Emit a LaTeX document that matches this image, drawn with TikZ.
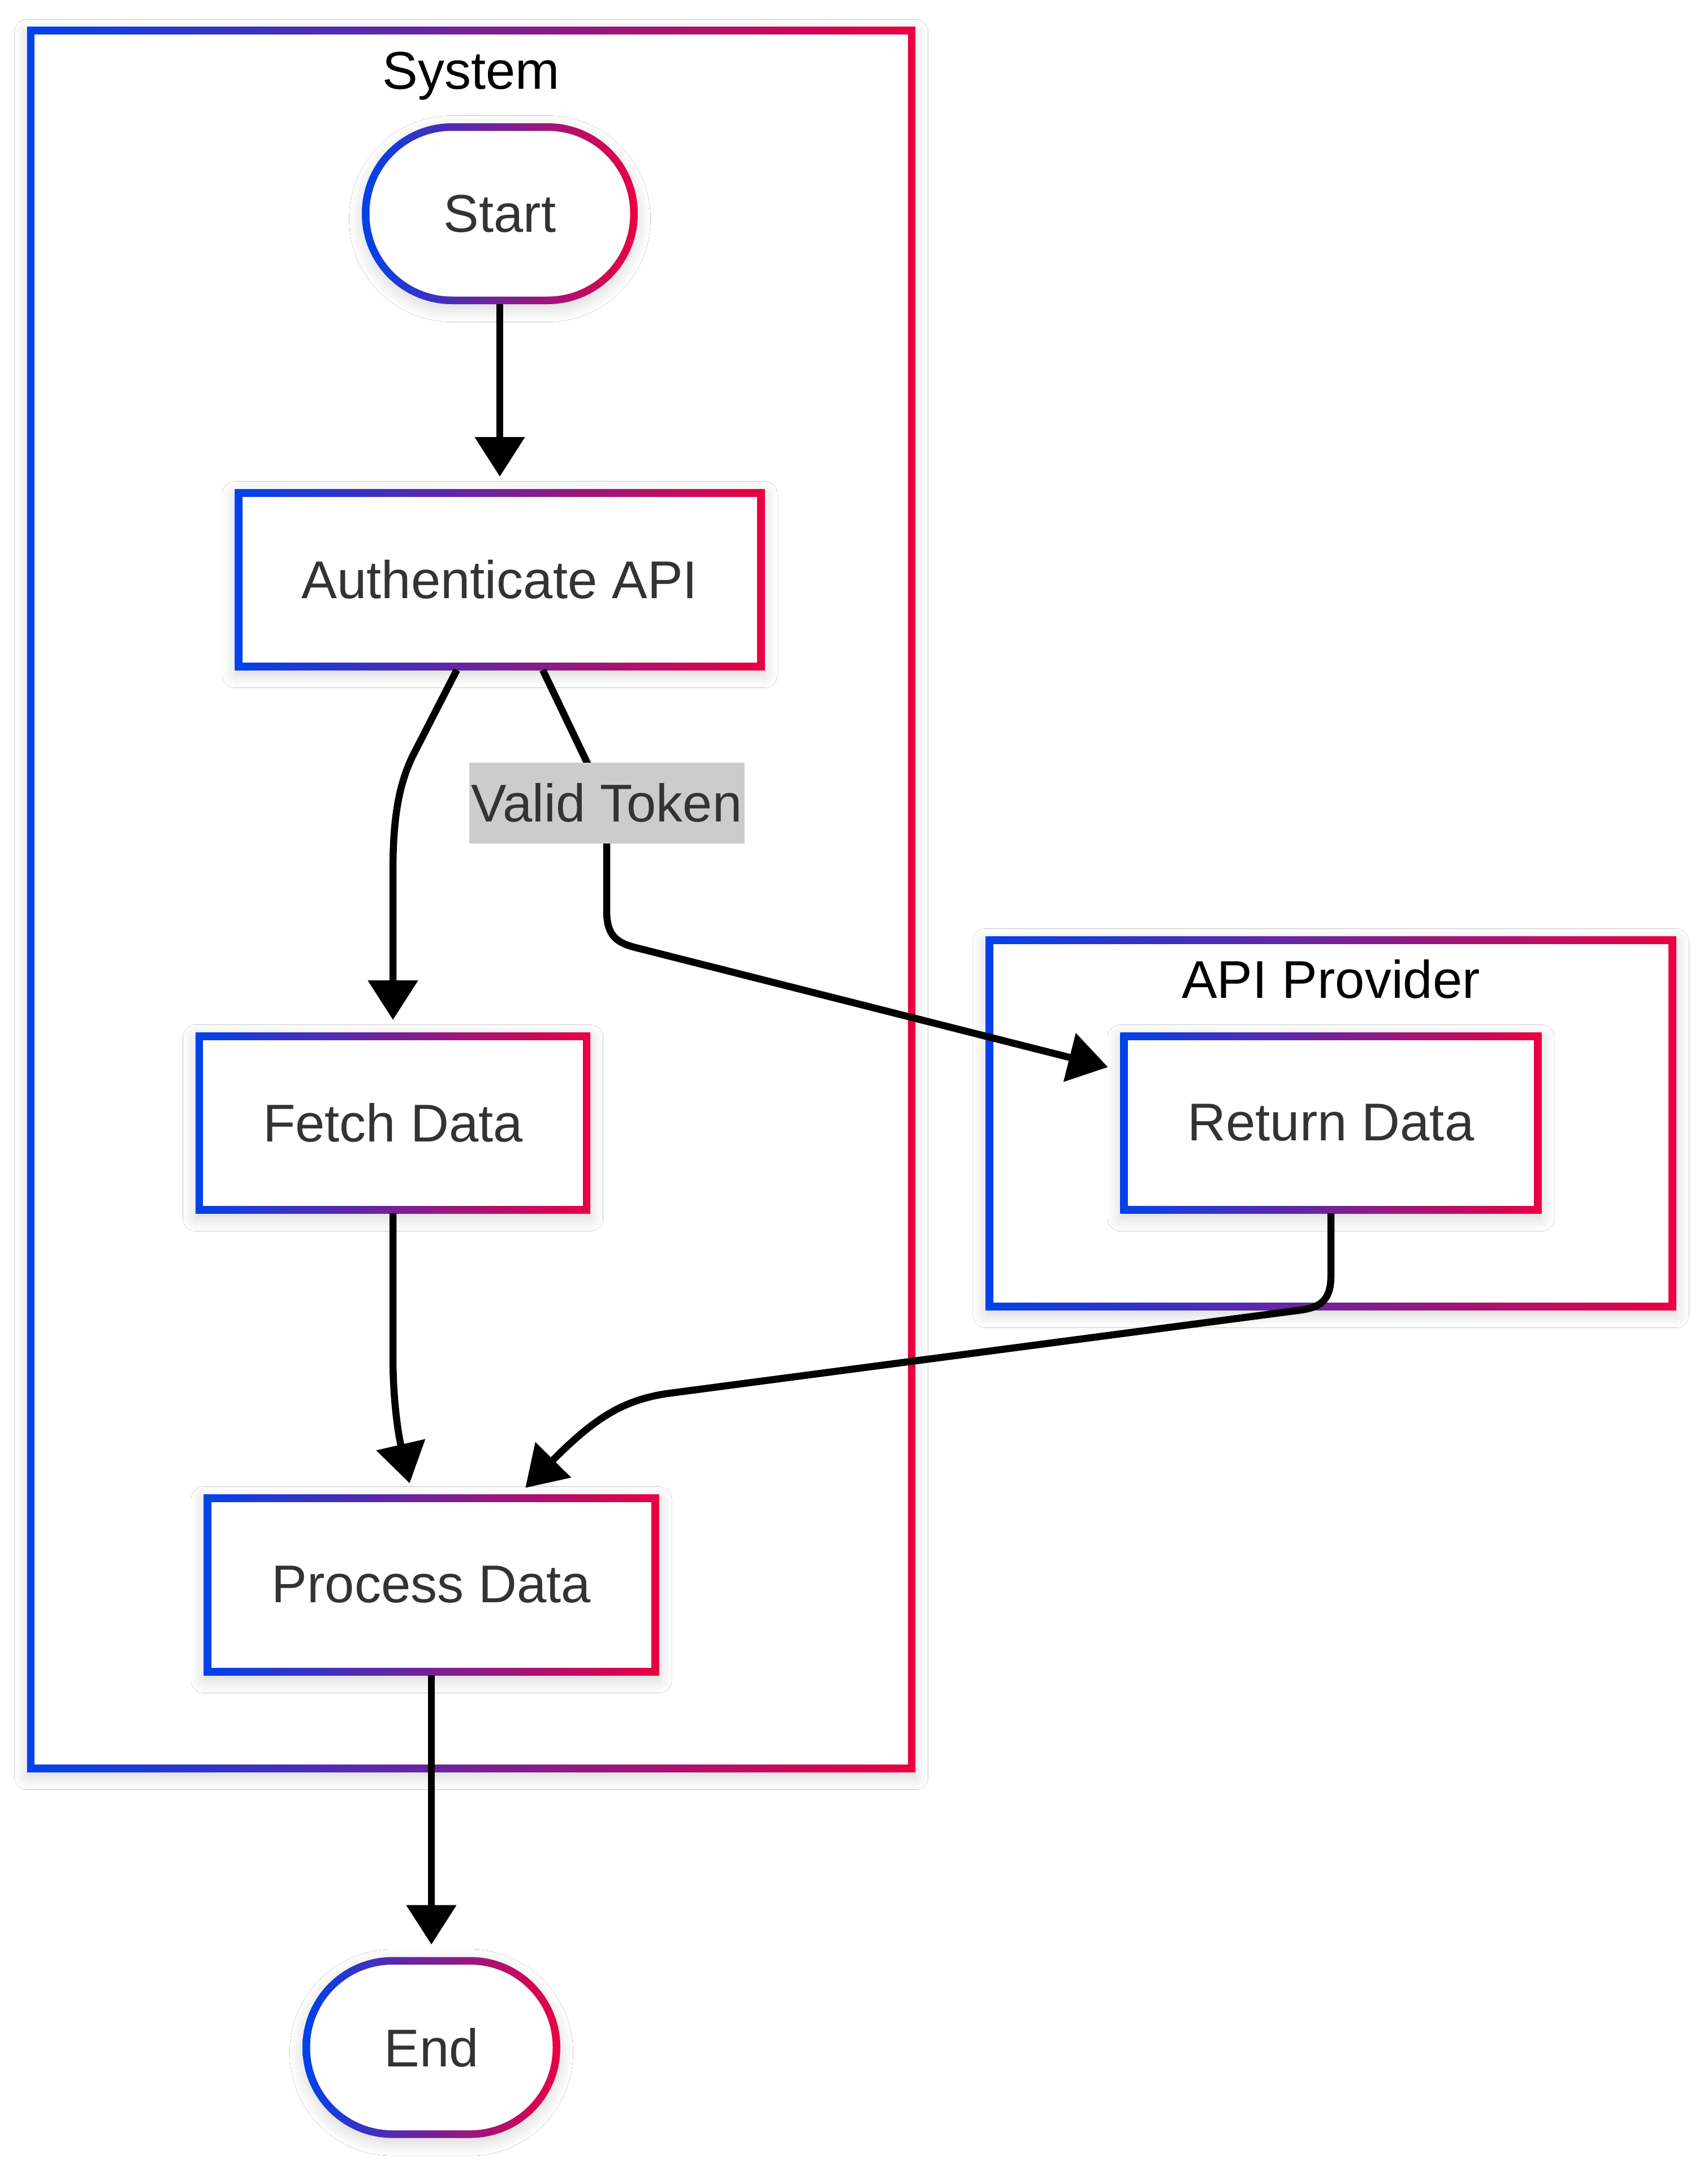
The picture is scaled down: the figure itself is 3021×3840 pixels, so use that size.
\documentclass[tikz,border=0pt]{standalone}
\usepackage{fontspec}
\setmainfont{Liberation Sans}
\usetikzlibrary{arrows.meta,calc,shadows.blur}
\definecolor{gblue}{RGB}{0,66,235}
\definecolor{gred}{RGB}{235,0,66}
\definecolor{txt}{RGB}{51,51,51}
\definecolor{lblbg}{RGB}{204,204,204}
\tikzset{
  lbfont/.style={font=\fontsize{18.8pt}{23pt}\selectfont},
  gbase/.style={rectangle, outer sep=0pt, inner sep=0pt, left color=gblue, right color=gred,
    minimum height=64pt, text=txt, lbfont,
    blur shadow={shadow xshift=0pt, shadow yshift=-1.8pt, shadow blur radius=4.5pt,
      shadow opacity=16, shadow blur steps=16}},
  gbox/.style={gbase,
    path picture={\fill[white] ($(path picture bounding box.north west)+(2.7pt,-2.7pt)$)
      rectangle ($(path picture bounding box.south east)+(-2.7pt,2.7pt)$);}},
  gstadium/.style={gbase, rounded corners=31.9pt,
    path picture={\fill[white, rounded corners=29.2pt] ($(path picture bounding box.north west)+(2.7pt,-2.7pt)$)
      rectangle ($(path picture bounding box.south east)+(-2.7pt,2.7pt)$);}},
  clabel/.style={lbfont, text=black, anchor=base, inner sep=0pt},
  edge/.style={draw=black, line width=2.5pt, -{Triangle[length=14pt,width=17.2pt]}},
  elabel/.style={fill=lblbg, text=txt, lbfont, inner xsep=0.8pt, inner ysep=0pt, minimum height=28.6pt},
}
\begin{document}
\begin{tikzpicture}[x=0.2pt, y=-0.2pt]
\useasboundingbox (0,0) rectangle (3021,3840);
\fill[white] (0,0) rectangle (3021,3840);

% clusters
\node[gbox, minimum width=314.2pt, minimum height=617.2pt] (sys) at (833.5,1591) {};
\node[gbox, minimum width=244.3pt, minimum height=132.2pt] (prov) at (2354,1986.5) {};
\node[clabel] (syslbl) at (833.5,157) {System};
\node[clabel] (provlbl) at (2354,1765) {API Provider};

% nodes
\node[gstadium, minimum width=97.6pt] (start) at (884,378) {Start};
\node[gbox, minimum width=187.4pt] (auth) at (884,1025) {Authenticate API};
\node[gbox, minimum width=139.6pt] (fetch) at (695,1986) {Fetch Data};
\node[gbox, minimum width=149pt] (ret) at (2354,1986) {Return Data};
\node[gbox, minimum width=161pt] (proc) at (763,2803) {Process Data};
\node[gstadium, minimum width=91.2pt] (end) at (763,3621.5) {End};

% edges
\draw[edge, shorten >=4.4pt] (start) -- (auth);
\draw[edge, shorten >=4.4pt] ($(auth.south)+(-76,0)$) -- (732,1333)
  .. controls (702,1392) and (695,1460) .. (695,1543) -- (fetch.north);
\draw[edge, shorten >=4.5pt] ($(auth.south)+(76,0)$) -- (1037,1346)
  .. controls (1060,1395) and (1073,1425) .. (1073,1490) -- (1073,1610)
  .. controls (1073,1655) and (1090,1668) .. (1128,1677) -- ($(ret.west)+(0,-93)$);
\node[elabel] (vt) at (1073,1420) {Valid Token};
\draw[edge, shorten >=4pt] (fetch.south) -- (695,2400)
  .. controls (695,2470) and (703,2530) .. ($(proc.north)+(-34,0)$);
\draw[edge, shorten >=3.2pt] (ret.south) -- (2354,2257)
  .. controls (2354,2300) and (2335,2312) .. (2302,2317) -- (1179,2465)
  .. controls (1100,2477) and (1050,2510) .. ($(proc.north)+(155,0)$);
\draw[edge, shorten >=4.4pt] (proc) -- (end);
\end{tikzpicture}
\end{document}
